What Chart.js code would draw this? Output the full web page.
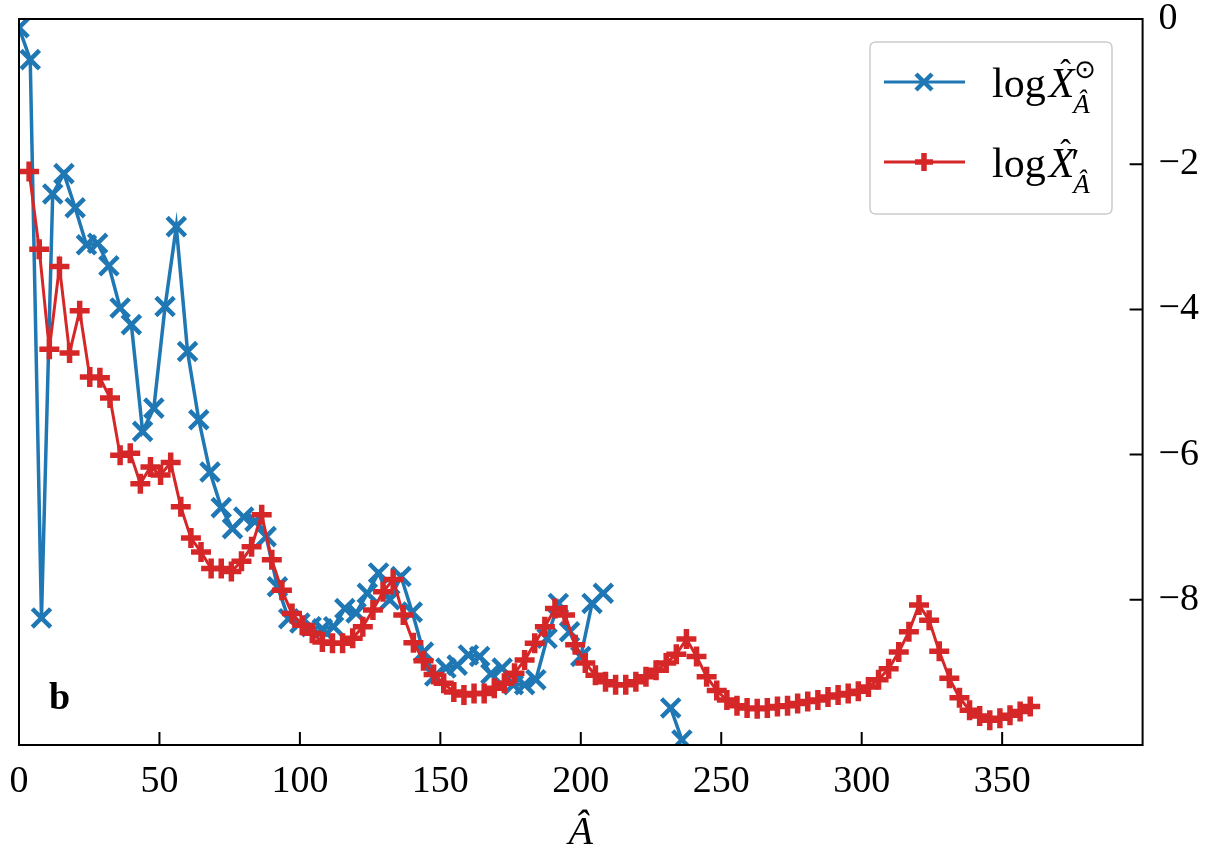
<!DOCTYPE html>
<html><head><meta charset="utf-8">
<script src="https://cdn.jsdelivr.net/npm/chart.js@4/dist/chart.umd.min.js"></script>
<style>html,body{margin:0;padding:0;background:#fff;}#wrap{width:1212px;height:853px;position:relative;}</style>
</head><body><div id="wrap"><canvas id="c" width="1212" height="853"></canvas></div>
<script>
// ---- data ----
const blueA = [0,4,8,12,16,20,24,28,32,36,40,44,48,52,56,60,64,68,72,76,80,84,88,92,96,100,104,108,112,116,120,124,128,132,136,140,144,148,152,156,160,164,168,172,176,180,184,188,192,196,200,204,208,212,216,220,224,228,232,236];
const blueLog = [-0.12,-0.56,-8.25,-2.41,-2.13,-2.60,-3.11,-3.09,-3.40,-3.98,-4.21,-5.68,-5.36,-3.96,-2.86,-4.58,-5.52,-6.24,-6.73,-7.02,-6.86,-6.92,-7.13,-7.82,-8.26,-8.32,-8.37,-8.40,-8.37,-8.12,-8.18,-7.91,-7.63,-8.00,-7.68,-8.17,-8.72,-9.05,-8.94,-8.90,-8.76,-8.78,-9.02,-8.94,-9.17,-9.17,-9.10,-8.53,-8.05,-8.44,-8.78,-8.05,-7.91,null,null,null,null,null,-9.49,-9.93];
const redA = [3.6,7.2,10.8,14.4,18,21.6,25.2,28.8,32.4,36,39.6,43.2,46.8,50.4,54,57.6,61.2,64.8,68.4,72,75.6,79.2,82.8,86.4,90,93.6,97.2,100.8,104.4,108,111.6,115.2,118.8,122.4,126,129.6,133.2,136.8,140.4,144,147.6,151.2,154.8,158.4,162,165.6,169.2,172.8,176.4,180,183.6,187.2,190.8,194.4,198,201.6,205.2,208.8,212.4,216,219.6,223.2,226.8,230.4,234,237.6,241.2,244.8,248.4,252,255.6,259.2,262.8,266.4,270,273.6,277.2,280.8,284.4,288,291.6,295.2,298.8,302.4,306,309.6,313.2,316.8,320.4,324,327.6,331.2,334.8,338.4,342,345.6,349.2,352.8,356.4,360];
const redLog = [-2.10,-3.17,-4.55,-3.41,-4.60,-4.02,-4.93,-4.94,-5.22,-6.01,-5.98,-6.40,-6.17,-6.28,-6.11,-6.72,-7.15,-7.34,-7.57,-7.57,-7.61,-7.47,-7.27,-6.83,-7.45,-7.87,-8.19,-8.35,-8.46,-8.58,-8.60,-8.60,-8.53,-8.37,-8.14,-7.89,-7.72,-8.21,-8.59,-8.84,-9.03,-9.15,-9.27,-9.31,-9.29,-9.29,-9.22,-9.15,-9.01,-8.83,-8.60,-8.37,-8.12,-8.21,-8.62,-8.87,-9.04,-9.13,-9.17,-9.17,-9.13,-9.06,-8.97,-8.87,-8.75,-8.54,-8.78,-9.06,-9.25,-9.38,-9.46,-9.49,-9.50,-9.49,-9.47,-9.46,-9.43,-9.40,-9.38,-9.34,-9.31,-9.29,-9.26,-9.20,-9.10,-8.95,-8.72,-8.44,-8.07,-8.28,-8.71,-9.08,-9.35,-9.52,-9.60,-9.66,-9.63,-9.59,-9.54,-9.47];
const xTickValues = [0,50,100,150,200,250,300,350];
const yTickValues = [0,-2,-4,-6,-8];
const xTitle = 'Â';
const panelLabel = 'b';

const BLUE = '#1f77b4', RED = '#d62728';
const SERIF = '"Liberation Serif","Times New Roman",serif';

const blueData = blueA.map((a,i)=>({x:a,y:blueLog[i]}));
const redData = redA.map((a,i)=>({x:a,y:redLog[i]}));

function crossRot(ctx,x,y,r,color,w){
  ctx.save();ctx.strokeStyle=color;ctx.lineWidth=w;ctx.beginPath();
  ctx.moveTo(x-r,y-r);ctx.lineTo(x+r,y+r);ctx.moveTo(x+r,y-r);ctx.lineTo(x-r,y+r);ctx.stroke();ctx.restore();
}
function cross(ctx,x,y,r,color,w){
  ctx.save();ctx.strokeStyle=color;ctx.lineWidth=w;ctx.beginPath();
  ctx.moveTo(x-r,y);ctx.lineTo(x+r,y);ctx.moveTo(x,y-r);ctx.lineTo(x,y+r);ctx.stroke();ctx.restore();
}
function noPad(s){s.paddingLeft=0;s.paddingRight=0;s.paddingTop=0;s.paddingBottom=0;}

const framePlugin = {
  id:'frame',
  afterDraw(chart){
    const ctx=chart.ctx, a=chart.chartArea, xs=chart.scales.x, ys=chart.scales.y;
    ctx.save();
    ctx.strokeStyle='#000';ctx.lineWidth=2;
    ctx.strokeRect(a.left,a.top,a.right-a.left,a.bottom-a.top);
    ctx.beginPath();
    xTickValues.forEach(v=>{const px=xs.getPixelForValue(v);ctx.moveTo(px,a.bottom);ctx.lineTo(px,a.bottom-13);});
    yTickValues.forEach(v=>{const py=ys.getPixelForValue(v);ctx.moveTo(a.right,py);ctx.lineTo(a.right-13,py);});
    ctx.stroke();
    // panel label
    ctx.fillStyle='#000';ctx.font='bold 38px '+SERIF;ctx.textAlign='left';ctx.textBaseline='alphabetic';
    ctx.fillText(panelLabel,49,709);
    // legend
    const lx=870, ly=42, lw=242, lh=172, rr=6;
    ctx.beginPath();
    ctx.moveTo(lx+rr,ly);ctx.lineTo(lx+lw-rr,ly);ctx.quadraticCurveTo(lx+lw,ly,lx+lw,ly+rr);
    ctx.lineTo(lx+lw,ly+lh-rr);ctx.quadraticCurveTo(lx+lw,ly+lh,lx+lw-rr,ly+lh);
    ctx.lineTo(lx+rr,ly+lh);ctx.quadraticCurveTo(lx,ly+lh,lx,ly+lh-rr);
    ctx.lineTo(lx,ly+rr);ctx.quadraticCurveTo(lx,ly,lx+rr,ly);ctx.closePath();
    ctx.fillStyle='rgba(255,255,255,0.8)';ctx.fill();
    ctx.strokeStyle='#cccccc';ctx.lineWidth=1.5;ctx.stroke();
    // entries
    const entries=[{y:82,color:BLUE,mk:'x',sup:'⊙',prime:false},{y:162,color:RED,mk:'+',sup:'',prime:true}];
    entries.forEach(e=>{
      ctx.strokeStyle=e.color;ctx.lineWidth=3;ctx.beginPath();ctx.moveTo(884,e.y);ctx.lineTo(965,e.y);ctx.stroke();
      if(e.mk==='x') crossRot(ctx,924,e.y,8,e.color,4.5); else cross(ctx,924,e.y,9,e.color,5.5);
      const base=e.y+15;
      ctx.fillStyle='#000';ctx.textBaseline='alphabetic';ctx.textAlign='left';
      ctx.font='42px '+SERIF;
      let x=992;
      ctx.fillText('log',x,base); x+=ctx.measureText('log').width+3;
      ctx.font='italic 42px '+SERIF;
      const xw=ctx.measureText('X').width;
      ctx.fillText('X',x,base);
      ctx.font='32px '+SERIF;
      ctx.textAlign='center';
      ctx.fillText('ˆ',x+xw/2+4,base-16);
      ctx.textAlign='left';
      x+=xw;
      if(e.sup){ctx.font='26px "DejaVu Sans",'+SERIF;ctx.fillText(e.sup,x,base-19);}
      if(e.prime){ctx.font='38px '+SERIF;ctx.fillText('′',x-3,base-2);}
      ctx.font='italic 27px '+SERIF;
      ctx.fillText('Â',x-1,base+16);
    });
    ctx.restore();
  }
};

new Chart(document.getElementById('c'),{
  type:'line',
  data:{datasets:[
    {label:'log X̂′_Â',data:redData,borderColor:RED,backgroundColor:RED,borderWidth:3,pointStyle:'cross',pointRadius:10,pointBorderWidth:5.5,pointBorderColor:RED,pointBackgroundColor:RED,tension:0,spanGaps:false,order:0},
    {label:'log X̂⊙_Â',data:blueData,borderColor:BLUE,backgroundColor:BLUE,borderWidth:3.5,pointStyle:'crossRot',pointRadius:13,pointBorderWidth:4.5,pointBorderColor:BLUE,pointBackgroundColor:BLUE,tension:0,spanGaps:false,order:1}
  ]},
  options:{
    responsive:false,animation:false,devicePixelRatio:1,
    layout:{padding:{left:19,top:19,right:0,bottom:0}},
    plugins:{legend:{display:false},tooltip:{enabled:false}},
    scales:{
      x:{type:'linear',position:'bottom',min:0,max:400,
        grid:{display:false,drawTicks:false},border:{display:false},
        afterBuildTicks(s){s.ticks=xTickValues.map(v=>({value:v}));},
        afterFit(s){s.height=853-745;noPad(s);},
        ticks:{color:'#000',padding:14,maxRotation:0,autoSkip:false,font:{family:SERIF,size:38}},
        title:{display:true,text:xTitle,color:'#000',padding:{top:0,bottom:0},font:{family:SERIF,size:40,style:'italic',lineHeight:1}}
      },
      y:{type:'linear',position:'right',min:-10,max:0,
        grid:{display:false,drawTicks:false},border:{display:false},
        afterBuildTicks(s){s.ticks=yTickValues.map(v=>({value:v}));},
        afterFit(s){s.width=1212-1142.6;noPad(s);},
        ticks:{color:'#000',padding:16,font:{family:SERIF,size:38},callback:v=>(v<0?'−'+Math.abs(v):String(v))}
      }
    }
  },
  plugins:[framePlugin]
});
</script></body></html>
